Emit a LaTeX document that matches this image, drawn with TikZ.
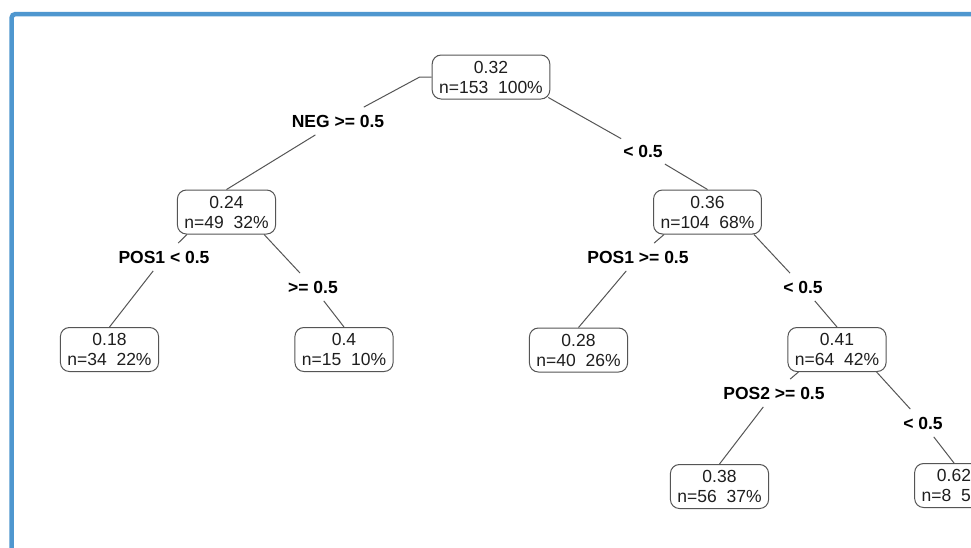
\documentclass[tikz,border=0pt]{standalone}
\usepackage{fontspec}
\setmainfont{Liberation Sans}

\begin{document}
\begin{tikzpicture}[x=1pt, y=-1pt]

\definecolor{framebl}{RGB}{79, 151, 207}
\definecolor{boxgray}{RGB}{85, 85, 85}
\definecolor{textdark}{RGB}{30, 30, 30}

% Page area, cut off like the screenshot
\useasboundingbox (0,0) rectangle (971,547);
\clip (0,0) rectangle (971,547);
\fill[white] (0,0) rectangle (971,547);
\draw[framebl, line width=4.5pt, rounded corners=4pt] (11.5,14) rectangle (1100,700);

\tikzset{
    tree block/.style={
        draw=boxgray, line width=1pt, fill=white,
        rounded corners=9pt,
        minimum height=44pt, inner xsep=7pt, inner ysep=2pt,
        text=textdark, font=\fontsize{17.5}{20}\selectfont, align=center
    },
    split label/.style={
        inner xsep=2pt, inner ysep=7.5pt,
        text=black, font=\fontsize{17.5}{20}\selectfont\bfseries
    },
    branch/.style={
        draw=boxgray, line width=1pt
    }
}

% Tree nodes (fitted value, count and share)
\node[tree block] (root) at (491, 77) {0.32\\n=153\ \ 100\%};
\node[tree block] (negY) at (226.5, 212) {0.24\\n=49\ \ 32\%};
\node[tree block] (negN) at (707.5, 212) {0.36\\n=104\ \ 68\%};
\node[tree block] (leafA) at (109.5, 349.5) {0.18\\n=34\ \ 22\%};
\node[tree block] (leafB) at (344, 349.5) {0.4\\n=15\ \ 10\%};
\node[tree block] (leafC) at (578.5, 350) {0.28\\n=40\ \ 26\%};
\node[tree block] (posN) at (837, 349.5) {0.41\\n=64\ \ 42\%};
\node[tree block] (leafD) at (719.5, 486.5) {0.38\\n=56\ \ 37\%};
\node[tree block] (leafE) at (954, 485.5) {0.62\\n=8\ \ 5\%};

% Split labels
\node[split label] (negL) at (338, 121) {NEG >= 0.5};
\node[split label] (negR) at (643, 151) {< 0.5};
\node[split label] (pos1L) at (164, 257) {POS1 < 0.5};
\node[split label] (pos1R) at (313, 287) {>= 0.5};
\node[split label] (pos1bL) at (638, 257) {POS1 >= 0.5};
\node[split label] (pos1bR) at (803, 287) {< 0.5};
\node[split label] (pos2L) at (774, 393) {POS2 >= 0.5};
\node[split label] (pos2R) at (923, 423) {< 0.5};

% Branches
\draw[branch] (root.west) -- ++(-12,0) -- (negL) -- (negY.north);
\draw[branch] ([xshift=-2pt, yshift=2pt]root.south east) -- (negR) -- (negN.north);
\draw[branch] ([xshift=10pt]negY.south west) -- (pos1L) -- (leafA.north);
\draw[branch] ([xshift=-12pt]negY.south east) -- (pos1R) -- (leafB.north);
\draw[branch] ([xshift=11pt]negN.south west) -- (pos1bL) -- (leafC.north);
\draw[branch] ([xshift=-8pt]negN.south east) -- (pos1bR) -- (posN.north);
\draw[branch] ([xshift=11pt]posN.south west) -- (pos2L) -- (leafD.north);
\draw[branch] ([xshift=-10pt]posN.south east) -- (pos2R) -- (leafE.north);

\end{tikzpicture}
\end{document}
